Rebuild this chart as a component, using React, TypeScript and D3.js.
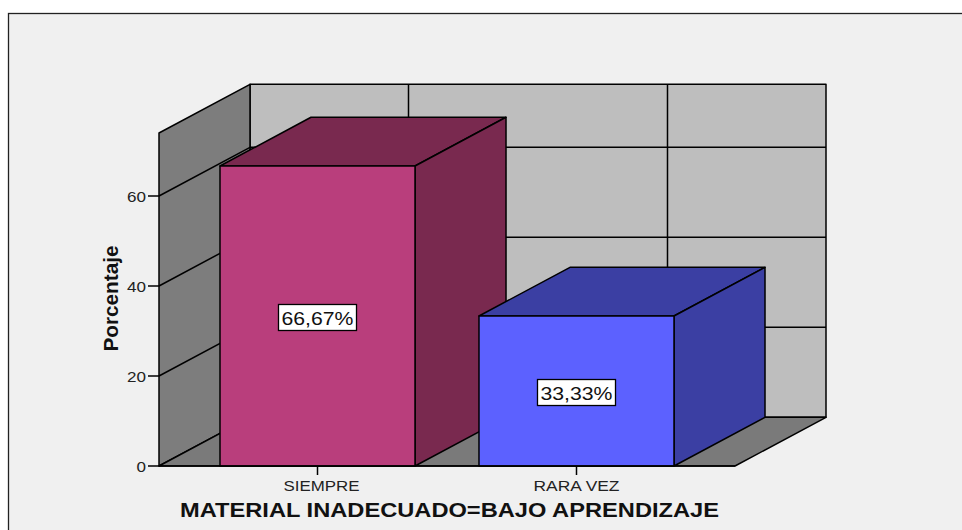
import React from "react";
import * as d3 from "d3";

const categories = ["SIEMPRE", "RARA VEZ"];
const values = [66.67, 33.33];
const valueLabels = ["66,67%", "33,33%"];
const yTicks = [0, 20, 40, 60];
const barFront = ["#b93e7c", "#5c61ff"];
const barDark = ["#79294f", "#3b3fa3"];
const yTitle = "Porcentaje";
const xTitle = "MATERIAL INADECUADO=BAJO APRENDIZAJE";

const W = 962, H = 530;
const dx = 91, dy = -48.7;
const y = d3.scaleLinear().domain([0, 74]).range([466, 133]);
const x = d3.scaleBand<string>().domain(categories).range([159, 735]).paddingInner(0.247).paddingOuter(0.2355);
const FONT = "Liberation Sans, Arial, sans-serif";
const poly = (pts: [number, number][]) => d3.line()(pts) + "Z";
const catOffset = [4, 0];
const catWidth = [76, 86];

export default function App() {
  const x0 = 159, x1 = 735, y0 = y(0), yT = y(74);
  const stroke = { stroke: "#000", strokeWidth: 1.5, strokeLinejoin: "round" as const };
  return (
    <svg width={W} height={H} style={{ position: "absolute", left: 0, top: 0, background: "#fff" }}>
      <rect x={8.5} y={13.5} width={W} height={H} fill="#f0f0f0" stroke="#222" strokeWidth={1.3} />
      {/* back wall */}
      <path d={poly([[x0 + dx, yT + dy], [x1 + dx, yT + dy], [x1 + dx, y0 + dy], [x0 + dx, y0 + dy]])} fill="#bebebe" {...stroke} />
      {/* side wall */}
      <path d={poly([[x0, yT], [x0 + dx, yT + dy], [x0 + dx, y0 + dy], [x0, y0]])} fill="#7d7d7d" {...stroke} />
      {/* floor */}
      <path d={poly([[x0, y0], [x0 + dx, y0 + dy], [x1 + dx, y0 + dy], [x1, y0]])} fill="#7a7a7a" {...stroke} />
      {/* gridlines */}
      {yTicks.slice(1).map((t) => (
        <path key={t} d={d3.line()([[x0, y(t)], [x0 + dx, y(t) + dy], [x1 + dx, y(t) + dy]]) as string} fill="none" {...stroke} />
      ))}
      {categories.map((c) => {
        const cx = (x(c) as number) + x.bandwidth() / 2 + dx;
        return <line key={c} x1={cx} x2={cx} y1={yT + dy} y2={y0 + dy} {...stroke} />;
      })}
      {/* bars */}
      {categories.map((c, i) => {
        const l = x(c) as number, r = l + x.bandwidth(), t = y(values[i]);
        return (
          <g key={c}>
            <path d={poly([[l, t], [l + dx, t + dy], [r + dx, t + dy], [r, t]])} fill={barDark[i]} {...stroke} />
            <path d={poly([[r, t], [r + dx, t + dy], [r + dx, y0 + dy], [r, y0]])} fill={barDark[i]} {...stroke} />
            <rect x={l} y={t} width={x.bandwidth()} height={y0 - t} fill={barFront[i]} {...stroke} />
          </g>
        );
      })}
      {/* floor front edge */}
      <line x1={x0} x2={x1} y1={y0} y2={y0} {...stroke} />
      {/* y axis */}
      {yTicks.map((t) => (
        <g key={t}>
          <line x1={x0 - 11} x2={x0} y1={y(t)} y2={y(t)} {...stroke} />
          <text x={146} y={y(t) + 6} textAnchor="end" fontFamily={FONT} fontSize={14.5} fill="#222" textLength={t === 0 ? 9.5 : 19} lengthAdjust="spacingAndGlyphs">{t}</text>
        </g>
      ))}
      <text transform="translate(118,298.5) rotate(-90)" textAnchor="middle" fontFamily={FONT} fontSize={21} fontWeight="bold" fill="#111" textLength={106} lengthAdjust="spacingAndGlyphs">{yTitle}</text>
      {/* x axis */}
      {categories.map((c, i) => {
        const cx = (x(c) as number) + x.bandwidth() / 2;
        return (
          <g key={c}>
            <line x1={cx} x2={cx} y1={y0} y2={y0 + 9} {...stroke} />
            <text x={cx + catOffset[i]} y={491} textAnchor="middle" fontFamily={FONT} fontSize={14.5} fill="#222" textLength={catWidth[i]} lengthAdjust="spacingAndGlyphs">{c}</text>
            <rect x={cx - 39} y={y(values[i] / 2) - 11.5} width={78} height={26} fill="#fff" stroke="#000" strokeWidth={1.3} />
            <text x={cx} y={y(values[i] / 2) + 9} textAnchor="middle" fontFamily={FONT} fontSize={19} fill="#111" textLength={72} lengthAdjust="spacingAndGlyphs">{valueLabels[i]}</text>
          </g>
        );
      })}
      <text x={449.5} y={517} textAnchor="middle" fontFamily={FONT} fontSize={20.5} fontWeight="bold" fill="#111" textLength={539} lengthAdjust="spacingAndGlyphs">{xTitle}</text>
    </svg>
  );
}
